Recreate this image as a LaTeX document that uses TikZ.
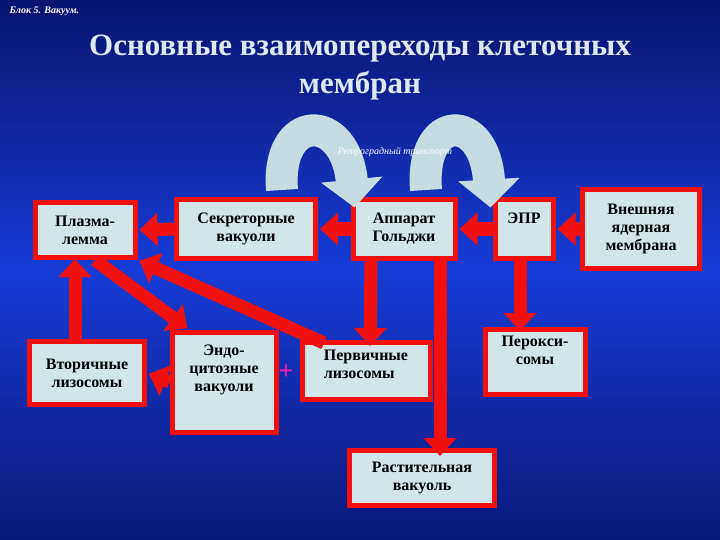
\documentclass[tikz,border=0pt]{standalone}
\usepackage{fontspec}
\setmainfont{Liberation Serif}
\usetikzlibrary{arrows.meta}
\definecolor{boxfill}{HTML}{D2E6EA}
\definecolor{arrred}{HTML}{F01010}
\definecolor{curv}{HTML}{C6DCE2}
\definecolor{titlec}{HTML}{DDE8F2}
\begin{document}
\begin{tikzpicture}[x=1pt,y=-1pt,
  box/.style={draw=arrred,line width=5pt,fill=boxfill,align=center,font=\bfseries\fontsize{16}{18}\selectfont,inner sep=0pt},
  rarr/.style={draw=arrred,line width=13pt,shorten >=2pt,-{Triangle[length=18pt,width=32pt]}},
  carr/.style={draw=curv,line width=32pt,-{Triangle[length=28pt,width=60pt]}}]
\useasboundingbox (0,0) rectangle (720,540);
\shade[top color={rgb,255:red,8;green,20;blue,110},bottom color={rgb,255:red,10;green,24;blue,120},middle color={rgb,255:red,22;green,60;blue,215}] (0,0) rectangle (720,540);
\node[anchor=west,text=white,font=\bfseries\itshape\fontsize{10}{12}\selectfont] (blk) at (6,11) {Блок 5. Вакуум.};
\node[text=titlec,font=\bfseries\fontsize{31}{38}\selectfont,align=center] (ttl) at (360,68) {Основные взаимопереходы клеточных\\мембран};
% boxes
\node[box,minimum width=100pt,minimum height=55pt] (pl) at (85,230) {Плазма-\\лемма};
\node[box,minimum width=139pt,minimum height=58pt] (sec) at (246,229) {Секреторные\\вакуоли};
\node[box,minimum width=102pt,minimum height=58pt] (gol) at (404,229) {Аппарат\\Гольджи};
\node[box,minimum width=58pt,minimum height=58pt] (epr) at (524,229) {ЭПР\\[4pt]};
\node[box,minimum width=117pt,minimum height=78pt] (nuc) at (641,229) {Внешняя\\ядерная\\мембрана};
\node[box,minimum width=115pt,minimum height=63pt] (sl) at (87,373) {Вторичные\\лизосомы};
\node[box,minimum width=104pt,minimum height=100pt] (endo) at (224,382) {Эндо-\\цитозные\\вакуоли\\[10pt]};
\node[box,minimum width=128pt,minimum height=57pt,align=left] (pls) at (366,371) {Первичные\\лизосомы\\[-4pt]};
\node[box,minimum width=100pt,minimum height=65pt] (per) at (535,362) {Перокси-\\сомы\\[6pt]};
\node[box,minimum width=145pt,minimum height=55pt] (veg) at (422,478) {Растительная\\вакуоль};
\node[text={rgb,255:red,235;green,30;blue,170},font=\bfseries\fontsize{26}{26}\selectfont] (plus) at (286,372) {+};
% red arrows
\draw[rarr] (sec.west) -- (pl.east);
\draw[rarr] (gol.west) -- (sec.east);
\draw[rarr] (epr.west) -- (gol.east);
\draw[rarr] (nuc.west) -- (epr.east);
\draw[rarr] ([xshift=-33pt]gol.south) -- ([xshift=4pt,yshift=-8pt]pls.north);
\draw[rarr] ([xshift=36pt]gol.south) -- ([xshift=18pt,yshift=-10pt]veg.north);
\draw[rarr] ([xshift=-4pt]epr.south) -- ([xshift=-15pt,yshift=-6pt]per.north);
\draw[rarr] ([xshift=10pt]pl.south) -- ([xshift=-35pt]endo.north);
\draw[rarr] ([xshift=-42pt,yshift=-3pt]pls.north) -- (pl.south east);
\draw[rarr] ([xshift=-12pt]sl.north) -- ([xshift=-10pt,yshift=3pt]pl.south);
\draw[rarr] (endo.west) -- (sl.east);
% curved arrows
\coordinate (c1) at (282,190);
\coordinate (c2) at (426,190);
\draw[carr] (c1) .. controls (276,112) and (345,112) .. ([xshift=4pt,yshift=-10pt]gol.north west);
\draw[carr] (c2) .. controls (420,112) and (485,112) .. ([xshift=-2pt,yshift=-10pt]epr.north west);
\node[text=white,font=\itshape\fontsize{10}{12}\selectfont] (rt) at (395,152) {Ретроградный транспорт};
\end{tikzpicture}
\end{document}
